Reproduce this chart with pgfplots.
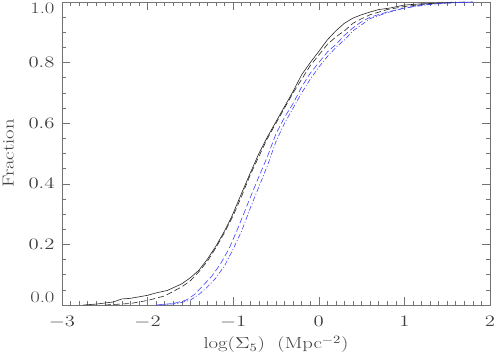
\RequirePackage{fix-cm}
\documentclass[border=0pt]{standalone}
\usepackage{fontspec}
\usepackage{graphicx}
\usepackage{pgfplots}
\pgfplotsset{compat=1.18}
\newcommand{\wide}[1]{\scalebox{1.3}[1]{#1}}
\begin{document}
\fontsize{16}{18}\selectfont
\begin{tikzpicture}
\begin{axis}[
  scale only axis,
  width=428bp, height=303bp,
  xmin=-3, xmax=2, ymin=0, ymax=1,
  xtick={-3,-2,-1,0,1,2},
  minor x tick num=9,
  ytick={0,0.2,0.4,0.6,0.8,1.0},
  minor y tick num=3,
  tick align=inside,
  major tick length=8bp, minor tick length=4bp,
  axis line style={black!55, line width=0.7pt},
  every tick/.style={black!55, line width=0.6pt},
  tick label style={font=\fontsize{16}{18}\selectfont, text=black!75},
  label style={font=\fontsize{16}{18}\selectfont, text=black!75},
  xticklabel={\wide{$\pgfmathprintnumber{\tick}$}},
  yticklabel={\ifnum\ticknum=5 \raisebox{-11.5bp}[0pt][0pt]{\wide{1.0}}\else\ifnum\ticknum=0 \raisebox{2.5bp}[0pt][0pt]{\wide{0.0}}\else\wide{\pgfmathprintnumber[fixed,precision=1,zerofill]{\tick}}\fi\fi},
  xticklabel style={yshift=-6bp},
  yticklabel style={xshift=-2bp},
  xlabel={\wide{log($\Sigma_5$)\ \ (Mpc$^{-2}$)}},
  ylabel={\wide{Fraction}},
  xlabel style={yshift=3bp},
  ylabel style={yshift=4bp},
  every axis plot/.append style={line width=0.6pt, sharp plot},
]
\addplot[black!85] coordinates {
(-2.75,0) (-2.6,0.003) (-2.4,0.01) (-2.3,0.02) (-2.2,0.022) (-2.0,0.032) (-1.9,0.04) (-1.77,0.048) (-1.6,0.07) (-1.5,0.09) (-1.4,0.115) (-1.3,0.152) (-1.2,0.195) (-1.1,0.245) (-1.02,0.29) (-0.9,0.37) (-0.8,0.436) (-0.7,0.50) (-0.6,0.555) (-0.5,0.605) (-0.4,0.655) (-0.3,0.705) (-0.2,0.76) (-0.1,0.80) (0,0.837) (0.1,0.875) (0.2,0.905) (0.3,0.93) (0.4,0.947) (0.5,0.958) (0.6,0.967) (0.7,0.975) (0.83,0.98) (1.0,0.99) (1.2,0.994) (1.5,0.997) (1.7,1.0)
};
\addplot[black!85, dash pattern=on 6bp off 3bp] coordinates {
(-2.5,0) (-2.2,0.005) (-2.0,0.015) (-1.8,0.03) (-1.6,0.06) (-1.5,0.08) (-1.4,0.11) (-1.3,0.145) (-1.2,0.19) (-1.1,0.24) (-1.0,0.295) (-0.9,0.36) (-0.8,0.43) (-0.7,0.49) (-0.6,0.55) (-0.5,0.60) (-0.4,0.65) (-0.3,0.70) (-0.2,0.745) (-0.1,0.79) (0,0.825) (0.1,0.86) (0.2,0.885) (0.3,0.905) (0.4,0.93) (0.5,0.945) (0.6,0.958) (0.8,0.975) (1.0,0.985) (1.3,0.995) (1.6,1.0)
};
\addplot[blue!75!white, dash pattern=on 6bp off 3bp] coordinates {
(-1.9,0) (-1.7,0.005) (-1.55,0.016) (-1.45,0.035) (-1.35,0.065) (-1.25,0.095) (-1.15,0.135) (-1.05,0.185) (-0.95,0.25) (-0.9,0.285) (-0.8,0.355) (-0.72,0.41) (-0.6,0.49) (-0.5,0.565) (-0.4,0.62) (-0.3,0.665) (-0.2,0.72) (-0.1,0.765) (0,0.80) (0.1,0.835) (0.2,0.86) (0.3,0.89) (0.4,0.915) (0.5,0.935) (0.6,0.95) (0.8,0.967) (1.0,0.98) (1.2,0.99) (1.5,0.997) (1.8,1.0)
};
\addplot[blue!75!white, dash pattern=on 5bp off 2bp on 1bp off 2bp] coordinates {
(-1.85,0) (-1.65,0.005) (-1.5,0.016) (-1.4,0.035) (-1.3,0.06) (-1.2,0.09) (-1.1,0.13) (-1.0,0.185) (-0.9,0.245) (-0.8,0.32) (-0.7,0.39) (-0.6,0.46) (-0.5,0.54) (-0.4,0.60) (-0.3,0.65) (-0.2,0.70) (-0.1,0.745) (0,0.785) (0.1,0.82) (0.2,0.85) (0.3,0.875) (0.4,0.905) (0.5,0.925) (0.6,0.945) (0.8,0.965) (1.0,0.98) (1.3,0.992) (1.6,0.998) (1.8,1.0)
};
\end{axis}
\pgfresetboundingbox
\path[use as bounding box] (current axis.south west) ++(-62bp,-52bp) rectangle ([xshift=5bp,yshift=2bp]current axis.north east);
\end{tikzpicture}
\end{document}
